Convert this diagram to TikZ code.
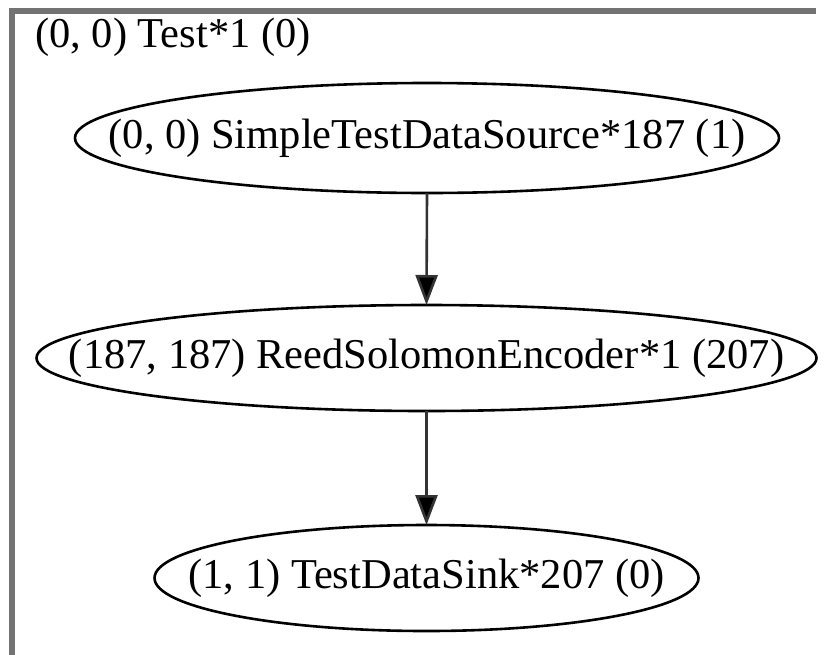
\documentclass[tikz,border=0pt]{standalone}
\usepackage{fontspec}
\setmainfont{Liberation Serif}
\usetikzlibrary{arrows.meta}
\begin{document}
\begin{tikzpicture}[x=1pt,y=-1pt,
  lbl/.style={inner sep=0pt,font=\fontsize{42.5}{45}\selectfont},
  ring/.style={draw=black,line width=2.6pt},
  flow/.style={draw=black!80,line width=2.6pt,-{Triangle[length=30pt,width=22pt,fill=black]}}]
  \useasboundingbox (0,0) rectangle (834,654);
  % cluster frame (right and bottom sides fall outside the page)
  \draw[draw=black!55,line width=6pt] (12,660) -- (12,11) -- (816,11);
  \node[lbl,anchor=west] (title) at (35,37) {(0, 0) Test*1 (0)};
  % block labels
  \node[lbl] (src) at (427,138) {(0, 0) SimpleTestDataSource*187 (1)};
  \node[lbl] (enc) at (426.5,358) {(187, 187) ReedSolomonEncoder*1 (207)};
  \node[lbl] (snk) at (426.5,578) {(1, 1) TestDataSink*207 (0)};
  % block outlines
  \draw[ring] (src.center) ellipse [x radius=352, y radius=55];
  \draw[ring] (enc.center) ellipse [x radius=390, y radius=53];
  \draw[ring] (snk.center) ellipse [x radius=272, y radius=53];
  % connector end points on the outlines (canvas y points up)
  \coordinate (srcB) at ([yshift=-55pt]src.center);
  \coordinate (encT) at ([yshift=53pt]enc.center);
  \coordinate (encB) at ([yshift=-53pt]enc.center);
  \coordinate (snkT) at ([yshift=53pt]snk.center);
  \draw[flow] (srcB) -- (encT);
  \draw[flow] (encB) -- (snkT);
\end{tikzpicture}
\end{document}
